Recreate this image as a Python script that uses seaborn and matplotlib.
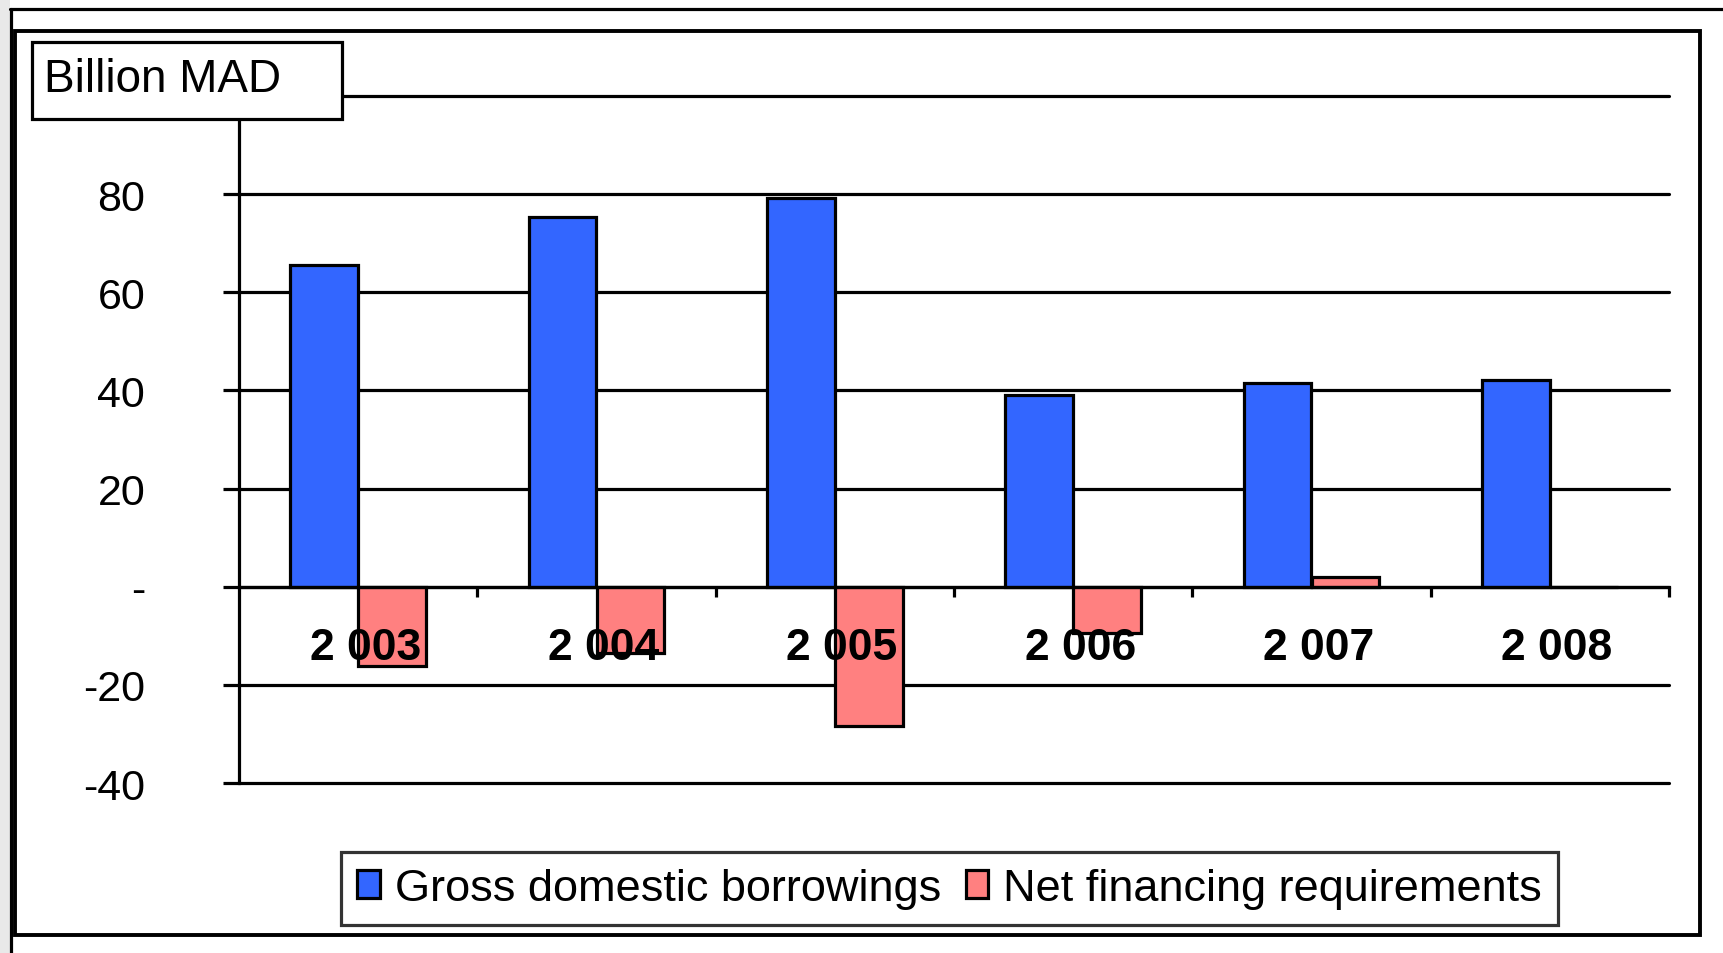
import matplotlib
matplotlib.use("Agg")
import matplotlib.pyplot as plt
import matplotlib.patches as mpatches
from matplotlib.lines import Line2D
import seaborn as sns
import pandas as pd

years = ["2 003", "2 004", "2 005", "2 006", "2 007", "2 008"]
gross_domestic_borrowings = [65.6, 75.4, 79.2, 39.0, 41.5, 42.1]
net_financing_requirements = [-16.1, -13.5, -28.3, -9.5, 1.9, 0.0]
series_names = ["Gross domestic borrowings", "Net financing requirements"]
colors = ["#3366FF", "#FF8080"]
yticks = [-40, -20, 0, 20, 40, 60, 80, 100]
ytick_labels = ["-40", "-20", "-", "20", "40", "60", "80", ""]

sns.set_theme(style="white")
plt.rcParams["font.family"] = ["Liberation Sans", "DejaVu Sans"]
plt.rcParams["text.color"] = "black"
plt.rcParams["axes.labelcolor"] = "black"
plt.rcParams["xtick.color"] = "black"
plt.rcParams["ytick.color"] = "black"

LW = 2.3

W, H = 1723, 954
fig = plt.figure(figsize=(W / 100, H / 100), dpi=100)
fig.patch.set_facecolor("white")

def fx(px):
    return px / W

def fy(py):
    return 1 - py / H

ax = fig.add_axes([fx(239), fy(784), fx(1669) - fx(239), fy(97) - fy(784)])

df = pd.DataFrame({
    "year": years * 2,
    "value": gross_domestic_borrowings + net_financing_requirements,
    "series": [series_names[0]] * len(years) + [series_names[1]] * len(years),
})

sns.barplot(data=df, x="year", y="value", hue="series", hue_order=series_names,
            palette=colors, order=years, width=0.57, gap=0, edgecolor="black",
            linewidth=LW, saturation=1, legend=False, ax=ax, zorder=3)

ax.set_xlim(-0.5, len(years) - 0.5)
ax.set_ylim(-40, 100)
ax.set_yticks(yticks)
ax.set_yticklabels(ytick_labels, fontsize=31, color="black")
ax.yaxis.grid(True, color="black", linewidth=LW, zorder=1)
ax.set_axisbelow(True)
for gl in ax.get_ygridlines():
    gl.set_clip_on(False)
ax.tick_params(axis="y", direction="out", length=11.5, width=LW, color="black",
               pad=56, left=True, labelsize=31, labelcolor="black")

for s in ["top", "right"]:
    ax.spines[s].set_visible(False)
ax.spines["left"].set_color("black")
ax.spines["left"].set_linewidth(LW)
ax.spines["bottom"].set_position(("data", 0))
ax.spines["bottom"].set_color("black")
ax.spines["bottom"].set_linewidth(LW)
ax.spines["bottom"].set_zorder(4)
ax.set_xticks([i + 0.5 for i in range(len(years))])
ax.set_xticklabels([])
ax.tick_params(axis="x", direction="out", length=7, width=LW, color="black", bottom=True)
ax.set_xlabel("")
ax.set_ylabel("")

for i, yr in enumerate(years):
    ax.text(i + 0.03, -12.4, yr, ha="center", va="center", fontsize=32,
            fontweight="bold", color="black", zorder=6)

# Unit box
fig.add_artist(mpatches.Rectangle((fx(32), fy(120)), fx(342) - fx(32), fy(43) - fy(120),
                                  transform=fig.transFigure, facecolor="white",
                                  edgecolor="black", linewidth=LW, zorder=10))
fig.text(fx(44), fy(80), "Billion MAD", ha="left", va="center", fontsize=33,
         color="black", zorder=11)

# Legend
handles = [mpatches.Patch(facecolor=c, edgecolor="black", linewidth=LW, label=n)
           for c, n in zip(colors, series_names)]
leg = fig.legend(handles=handles, loc="center", bbox_to_anchor=(fx(949.5), fy(889.5)),
                 ncol=2, fontsize=32.5, frameon=True, fancybox=False, shadow=False,
                 handlelength=0.5, handleheight=0.55, handletextpad=0.33,
                 columnspacing=0.55, borderpad=0.36, borderaxespad=0)
leg.get_frame().set_edgecolor("black")
leg.get_frame().set_linewidth(LW)
for t in leg.get_texts():
    t.set_color("black")

# Slide frames
fig.add_artist(mpatches.Rectangle((0, 0), fx(10), 1, transform=fig.transFigure,
                                  facecolor="#e9e9e9", edgecolor="none", zorder=0))
fig.add_artist(Line2D([fx(10), 1], [fy(10), fy(10)], transform=fig.transFigure,
                      color="black", linewidth=LW))
fig.add_artist(Line2D([fx(11), fx(11)], [0, fy(10)], transform=fig.transFigure,
                      color="black", linewidth=LW))
fig.add_artist(mpatches.Rectangle((fx(15), fy(936)), fx(1700) - fx(15), fy(32) - fy(936),
                                  transform=fig.transFigure, fill=False,
                                  edgecolor="black", linewidth=2.8))

fig.savefig("out.png", dpi=100)
